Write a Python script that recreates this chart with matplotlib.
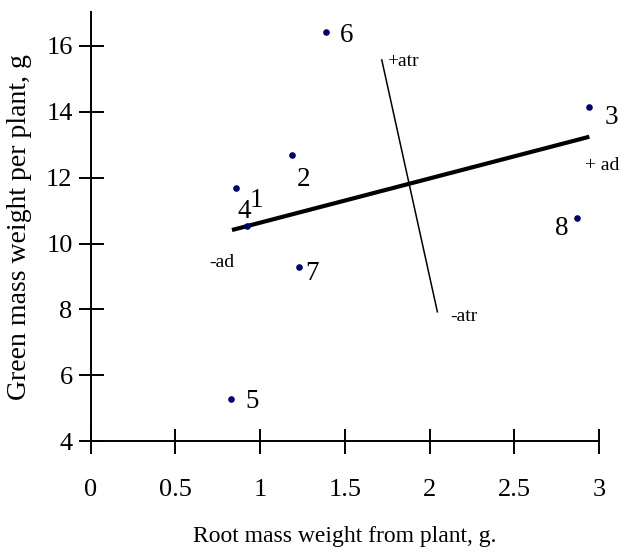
import numpy as np
import matplotlib
matplotlib.use("Agg")
import matplotlib.pyplot as plt

plt.rcParams['font.family'] = ['Liberation Serif', 'DejaVu Serif']

# plant samples: root mass (g) vs green mass (g)
labels = ["1", "4", "2", "6", "3", "8", "7", "5"]
root_mass = [0.856, 0.923, 1.187, 1.386, 2.943, 2.869, 1.231, 0.828]
green_mass = [11.69, 10.53, 12.70, 16.42, 14.15, 10.76, 9.30, 5.28]

# where the point numbers sit
label_x = [0.978, 0.905, 1.255, 1.511, 3.07, 2.78, 1.305, 0.950]
label_y = [11.30, 10.96, 11.93, 16.30, 13.83, 10.46, 9.10, 5.20]

# "ad" axis (thick) and "atr" axis (thin)
ad_x = [0.834, 2.943]
ad_y = [10.41, 13.24]
atr_x = [1.718, 2.046]
atr_y = [15.57, 7.93]

fig = plt.figure(figsize=(6.21, 5.52), dpi=100)
ax = fig.add_axes([0.146, 0.2005, 0.8186, 0.7775])

ax.scatter(root_mass, green_mass, s=14, color="#000066", zorder=3)
for lab, lx, ly in zip(labels, label_x, label_y):
    ax.text(lx, ly, lab, fontsize=19.5, ha="center", va="center")

ax.plot(ad_x, ad_y, color="black", lw=3.0, solid_capstyle="butt")
ax.plot(atr_x, atr_y, color="black", lw=1.1)

ax.text(1.751, 15.51, "+atr", fontsize=14, ha="left", va="center")
ax.text(2.125, 7.78, "-atr", fontsize=14, ha="left", va="center")
ax.text(3.016, 12.38, "+ ad", fontsize=14, ha="center", va="center")
ax.text(0.773, 9.42, "-ad", fontsize=14, ha="center", va="center")

ax.set_xlim(0, 3)
ax.set_ylim(4, 17.02)
ax.set_xticks([0, 0.5, 1, 1.5, 2, 2.5, 3])
ax.set_xticklabels(["0", "0.5", "1", "1.5", "2", "2.5", "3"])
ax.set_yticks([4, 6, 8, 10, 12, 14, 16])

for side in ["top", "right"]:
    ax.spines[side].set_visible(False)
for side in ["left", "bottom"]:
    ax.spines[side].set_linewidth(1.4)
ax.tick_params(axis="both", direction="inout", length=18, width=1.4, labelsize=19)
ax.tick_params(axis="x", pad=18)
ax.tick_params(axis="y", pad=4)

ax.set_xlabel("Root mass weight from plant, g.", fontsize=17, labelpad=18)
ax.set_ylabel("Green mass weight per plant, g", fontsize=20, labelpad=10)

fig.savefig("out.png", dpi=100)
